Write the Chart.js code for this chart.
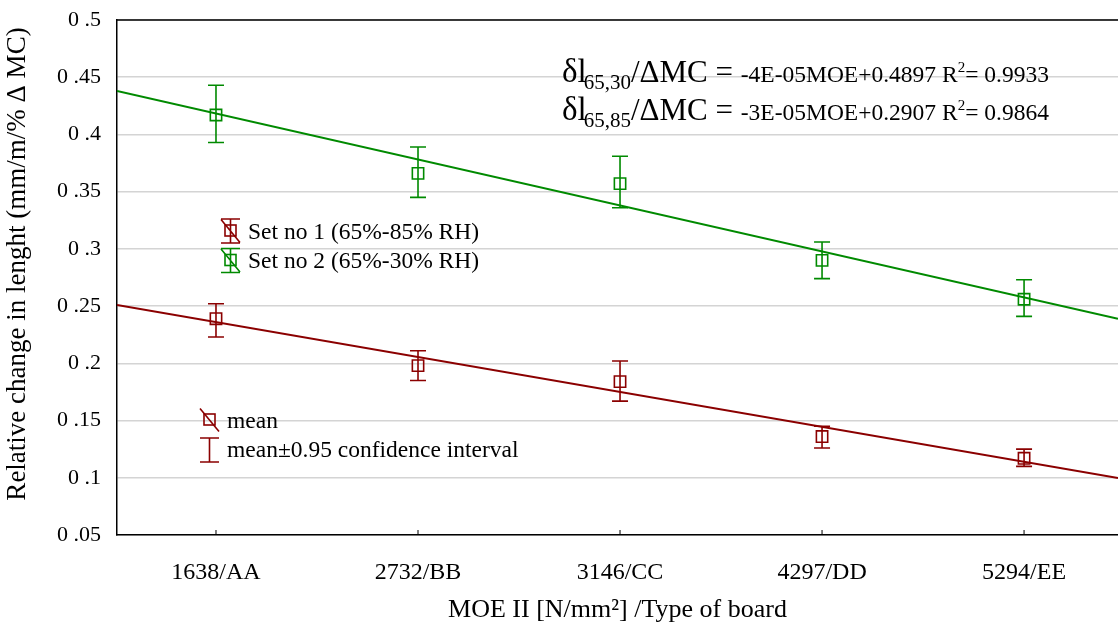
<!DOCTYPE html>
<html>
<head>
<meta charset="utf-8">
<script src="https://cdn.jsdelivr.net/npm/chart.js@4"></script>
<style>
  html, body { margin: 0; padding: 0; background: #fff; }
  #wrap { width: 1118px; height: 626px; position: relative; }
</style>
</head>
<body>
<div id="wrap"><canvas id="chart"></canvas></div>
<script>
// board types along x
const categories = ['1638/AA', '2732/BB', '3146/CC', '4297/DD', '5294/EE'];

// Set no 1 (65%-85% RH)
const set1Mean  = [0.239, 0.198, 0.184, 0.136, 0.117];
const set1Lower = [0.223, 0.185, 0.167, 0.126, 0.110];
const set1Upper = [0.252, 0.211, 0.202, 0.145, 0.125];

// Set no 2 (65%-30% RH)
const set2Mean  = [0.417, 0.366, 0.357, 0.290, 0.256];
const set2Lower = [0.393, 0.345, 0.336, 0.274, 0.241];
const set2Upper = [0.443, 0.389, 0.381, 0.306, 0.273];

// fitted lines, value at left and right edge of the plot
const xRange  = [-0.49, 4.465];
const fit1Ends = [0.251, 0.0997];
const fit2Ends = [0.438, 0.239];

const yTicks = [0.05, 0.1, 0.15, 0.2, 0.25, 0.3, 0.35, 0.4, 0.45, 0.5];

const RED = '#8b0000';
const GREEN = '#008a00';
const SERIF = '"Liberation Serif", "Times New Roman", serif';

const toPoints = arr => arr.map((y, i) => ({ x: i, y }));

// error bars, frame, x tick marks, legend and equations
const extras = {
  id: 'extras',
  afterDatasetsDraw(chart) {
    const { ctx, chartArea: a, scales: { x, y } } = chart;
    ctx.save();

    const bars = [[set1Lower, set1Upper, RED], [set2Lower, set2Upper, GREEN]];
    bars.forEach(([lo, hi, col]) => {
      ctx.strokeStyle = col;
      ctx.lineWidth = 1.6;
      lo.forEach((l, i) => {
        const px = x.getPixelForValue(i);
        const y1 = y.getPixelForValue(l), y2 = y.getPixelForValue(hi[i]);
        ctx.beginPath();
        ctx.moveTo(px, y1); ctx.lineTo(px, y2);
        ctx.moveTo(px - 8, y1); ctx.lineTo(px + 8, y1);
        ctx.moveTo(px - 8, y2); ctx.lineTo(px + 8, y2);
        ctx.stroke();
      });
    });

    // frame
    ctx.strokeStyle = '#000';
    ctx.lineWidth = 1.5;
    ctx.beginPath();
    ctx.moveTo(a.left, a.top); ctx.lineTo(a.right, a.top);
    ctx.stroke();

    // x tick marks pointing inward
    ctx.lineWidth = 1;
    categories.forEach((_, i) => {
      const px = x.getPixelForValue(i);
      ctx.beginPath();
      ctx.moveTo(px, a.bottom); ctx.lineTo(px, a.bottom - 5);
      ctx.stroke();
    });

    // legend
    const icon = (cx, cy, col, withBar, withSq, withDiag) => {
      ctx.strokeStyle = col;
      ctx.lineWidth = 1.6;
      ctx.beginPath();
      if (withBar) {
        ctx.moveTo(cx, cy - 12); ctx.lineTo(cx, cy + 12);
        ctx.moveTo(cx - 9.5, cy - 12); ctx.lineTo(cx + 9.5, cy - 12);
        ctx.moveTo(cx - 9.5, cy + 12); ctx.lineTo(cx + 9.5, cy + 12);
      }
      if (withDiag) { ctx.moveTo(cx - 9.5, cy - 11.5); ctx.lineTo(cx + 9.5, cy + 11.5); }
      ctx.stroke();
      if (withSq) ctx.strokeRect(cx - 5.5, cy - 6, 11, 11);
    };
    icon(230.5, 231, RED, true, true, true);
    icon(230.5, 260.5, GREEN, true, true, true);
    icon(209.5, 420, RED, false, true, true);
    icon(209.5, 450, RED, true, false, false);

    ctx.fillStyle = '#000';
    ctx.textBaseline = 'middle';
    ctx.textAlign = 'left';
    ctx.font = '23.5px ' + SERIF;
    ctx.fillText('Set no 1 (65%-85% RH)', 248, 233);
    ctx.fillText('Set no 2 (65%-30% RH)', 248, 262);
    ctx.fillText('mean', 227, 422);
    ctx.fillText('mean\u00b10.95 confidence interval', 227, 451);

    // regression equations
    const eq = (bx, by, sub, rest, r2) => {
      ctx.textBaseline = 'alphabetic';
      let cx = bx;
      const put = (t, font, dy) => {
        ctx.font = font;
        ctx.fillText(t, cx, by + (dy || 0));
        cx += ctx.measureText(t).width;
      };
      put('\u03b4l', '33px ' + SERIF);
      cx -= 3;
      put(sub, '21px ' + SERIF, 7);
      put('/\u0394MC = ', '31px ' + SERIF);
      put(rest, '23.5px ' + SERIF);
      put('R', '23.5px ' + SERIF);
      put('2', '15px ' + SERIF, -10);
      put('= ' + r2, '23.5px ' + SERIF);
    };
    eq(562, 82, '65,30', '-4E-05MOE+0.4897 ', '0.9933');
    eq(562, 120, '65,85', '-3E-05MOE+0.2907 ', '0.9864');

    ctx.restore();
  }
};

new Chart(document.getElementById('chart'), {
  type: 'scatter',
  data: {
    datasets: [
      {
        label: 'Set no 1 (65%-85% RH)',
        data: toPoints(set1Mean),
        borderColor: RED, backgroundColor: 'rgba(0,0,0,0)',
        pointStyle: 'rect', pointRadius: 8, borderWidth: 1.6
      },
      {
        label: 'Set no 2 (65%-30% RH)',
        data: toPoints(set2Mean),
        borderColor: GREEN, backgroundColor: 'rgba(0,0,0,0)',
        pointStyle: 'rect', pointRadius: 8, borderWidth: 1.6
      },
      {
        label: 'fit 1', type: 'line',
        data: xRange.map((x, i) => ({ x, y: fit1Ends[i] })),
        borderColor: RED, borderWidth: 2, pointRadius: 0
      },
      {
        label: 'fit 2', type: 'line',
        data: xRange.map((x, i) => ({ x, y: fit2Ends[i] })),
        borderColor: GREEN, borderWidth: 2, pointRadius: 0
      }
    ]
  },
  options: {
    responsive: true,
    maintainAspectRatio: false,
    animation: false,
    layout: { autoPadding: false, padding: { top: 20, right: 0, left: 0, bottom: 0 } },
    plugins: { legend: { display: false }, tooltip: { enabled: false } },
    scales: {
      x: {
        type: 'linear',
        min: xRange[0], max: xRange[1],
        afterBuildTicks: s => { s.ticks = categories.map((_, i) => ({ value: i })); },
        afterFit: s => { s.height = 91; s.paddingLeft = 0; s.paddingRight = 0; },
        grid: { display: false },
        border: { color: '#000', width: 1.5 },
        ticks: {
          color: '#000', padding: 15,
          font: { family: SERIF, size: 24 },
          callback: v => categories[v]
        },
        title: {
          display: true, text: 'MOE II [N/mm\u00b2] /Type of board', color: '#000',
          font: { family: SERIF, size: 26 }, padding: { top: 0, bottom: 0 }
        }
      },
      y: {
        min: 0.05, max: 0.5,
        afterBuildTicks: s => { s.ticks = yTicks.map(value => ({ value })); },
        afterFit: s => { s.width = 117; s.paddingTop = 0; s.paddingBottom = 0; },
        grid: { color: '#d4d4d4', lineWidth: 1.5, drawTicks: false },
        border: { color: '#000', width: 1.5 },
        ticks: {
          color: '#000', padding: 16,
          font: { family: SERIF, size: 22 },
          callback: v => v.toFixed(2).replace(/0$/, '').replace('.', ' .')
        },
        title: {
          display: true, text: '    Relative change in lenght (mm/m/% \u0394 MC)', color: '#000',
          font: { family: SERIF, size: 27 }, padding: { top: 2, bottom: 0 }
        }
      }
    }
  },
  plugins: [extras]
});
</script>
</body>
</html>
